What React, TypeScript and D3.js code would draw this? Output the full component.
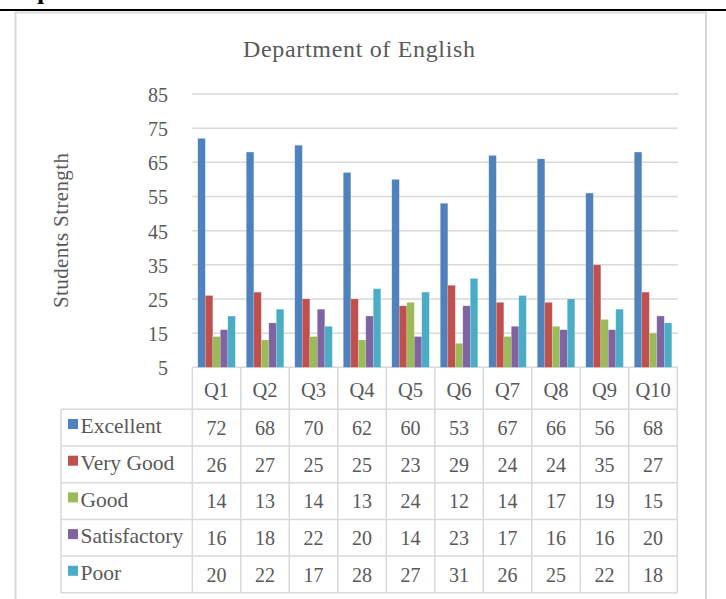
import React from "react";
import * as d3 from "d3";

const categories = ["Q1", "Q2", "Q3", "Q4", "Q5", "Q6", "Q7", "Q8", "Q9", "Q10"];
const seriesNames = ["Excellent", "Very Good", "Good", "Satisfactory", "Poor"];
const excellent = [72, 68, 70, 62, 60, 53, 67, 66, 56, 68];
const veryGood = [26, 27, 25, 25, 23, 29, 24, 24, 35, 27];
const good = [14, 13, 14, 13, 24, 12, 14, 17, 19, 15];
const satisfactory = [16, 18, 22, 20, 14, 23, 17, 16, 16, 20];
const poor = [20, 22, 17, 28, 27, 31, 26, 25, 22, 18];
const yTicks = [5, 15, 25, 35, 45, 55, 65, 75, 85];
const colors = ["#4F81BD", "#C0504D", "#9BBB59", "#8064A2", "#4BACC6"];

const seriesValues = [excellent, veryGood, good, satisfactory, poor];

const W = 726;
const H = 599;
const plotLeft = 192.3;
const plotRight = 677.3;
const plotTop = 94;
const plotBottom = 367.3;
const tableLeft = 61;
const headerBottom = 409.3;
const rowH = 36.7;
const grid = "#D9D9D9";
const textColor = "#595959";
const font = "'Liberation Serif', 'Times New Roman', serif";

export default function App() {
  const y = d3.scaleLinear().domain([5, 85]).range([plotBottom, plotTop]);
  const x0 = d3.scaleBand<string>().domain(categories).range([plotLeft, plotRight]).padding(0);
  const step = x0.bandwidth();
  const groupW = 37.5;
  const x1 = d3
    .scaleBand<string>()
    .domain(seriesNames)
    .range([(step - groupW) / 2, (step + groupW) / 2])
    .padding(0);

  const colLines = d3.range(categories.length + 1).map((i) => plotLeft + i * step);
  const rowLines = d3.range(seriesNames.length + 1).map((j) => headerBottom + j * rowH);
  const tableBottom = rowLines[rowLines.length - 1];

  return (
    <>
      <style>{`body{margin:0;} svg{display:block;}`}</style>
      <svg width={W} height={H} viewBox={`0 0 ${W} ${H}`} style={{ background: "#fff" }}>
        {/* page remnants */}
        <text x={37} y={4} fontFamily={font} fontWeight="bold" fontSize={26} fill="#000">
          l
        </text>
        <rect x={0} y={9} width={W} height={2} fill="#000" />
        {/* chart frame */}
        <rect x={15.5} y={12.5} width={690.5} height={620} fill="#fff" stroke={grid} strokeWidth={2} />

        {/* title */}
        <text
          x={359}
          y={56.5}
          textAnchor="middle"
          fontFamily={font}
          fontSize={24}
          fill={textColor}
          textLength={232}
          lengthAdjust="spacing"
        >
          Department of English
        </text>

        {/* gridlines */}
        {yTicks.map((t) => (
          <line key={t} x1={plotLeft} x2={plotRight + 0.7} y1={y(t)} y2={y(t)} stroke={grid} strokeWidth={1.5} />
        ))}
        {/* y tick labels */}
        {yTicks.map((t) => (
          <text
            key={"l" + t}
            x={168}
            y={y(t) + 8}
            textAnchor="end"
            fontFamily={font}
            fontSize={20}
            fill={textColor}
          >
            {t}
          </text>
        ))}
        {/* y axis title */}
        <text
          transform={`translate(67.5, 230.5) rotate(-90)`}
          textAnchor="middle"
          fontFamily={font}
          fontSize={21}
          fill={textColor}
          textLength={155}
          lengthAdjust="spacing"
        >
          Students Strength
        </text>

        {/* bars */}
        {categories.map((c, i) => (
          <g key={c} transform={`translate(${x0(c)},0)`}>
            {seriesNames.map((s, k) => {
              const v = seriesValues[k][i];
              return (
                <rect
                  key={s}
                  x={x1(s)}
                  y={y(v)}
                  width={x1.bandwidth()}
                  height={plotBottom - y(v)}
                  fill={colors[k]}
                  stroke="rgba(255,255,255,0.25)"
                  strokeWidth={0.6}
                />
              );
            })}
          </g>
        ))}

        {/* table: header row */}
        {colLines.map((cx, i) => (
          <line key={"hv" + i} x1={cx} x2={cx} y1={plotBottom} y2={headerBottom} stroke={grid} strokeWidth={1.5} />
        ))}
        {categories.map((c) => (
          <text
            key={"q" + c}
            x={(x0(c) as number) + step / 2}
            y={397}
            textAnchor="middle"
            fontFamily={font}
            fontSize={20.5}
            fill={textColor}
          >
            {c}
          </text>
        ))}
        {/* table body lines */}
        {rowLines.map((ry, j) => (
          <line key={"rh" + j} x1={tableLeft} x2={plotRight} y1={ry} y2={ry} stroke={grid} strokeWidth={1.5} />
        ))}
        <line x1={tableLeft} x2={tableLeft} y1={headerBottom} y2={tableBottom} stroke={grid} strokeWidth={1.5} />
        {colLines.map((cx, i) => (
          <line key={"bv" + i} x1={cx} x2={cx} y1={headerBottom} y2={tableBottom} stroke={grid} strokeWidth={1.5} />
        ))}
        {/* legend cells and values */}
        {seriesNames.map((s, k) => {
          const top = rowLines[k];
          return (
            <g key={"row" + s}>
              <rect x={68} y={top + 9.7} width={10} height={10} fill={colors[k]} />
              <text x={80.5} y={top + 24} fontFamily={font} fontSize={21.5} fill={textColor}>
                {s}
              </text>
              {categories.map((c, i) => (
                <text
                  key={c}
                  x={(x0(c) as number) + step / 2}
                  y={top + 25.7}
                  textAnchor="middle"
                  fontFamily={font}
                  fontSize={20}
                  fill={textColor}
                >
                  {seriesValues[k][i]}
                </text>
              ))}
            </g>
          );
        })}
      </svg>
    </>
  );
}
